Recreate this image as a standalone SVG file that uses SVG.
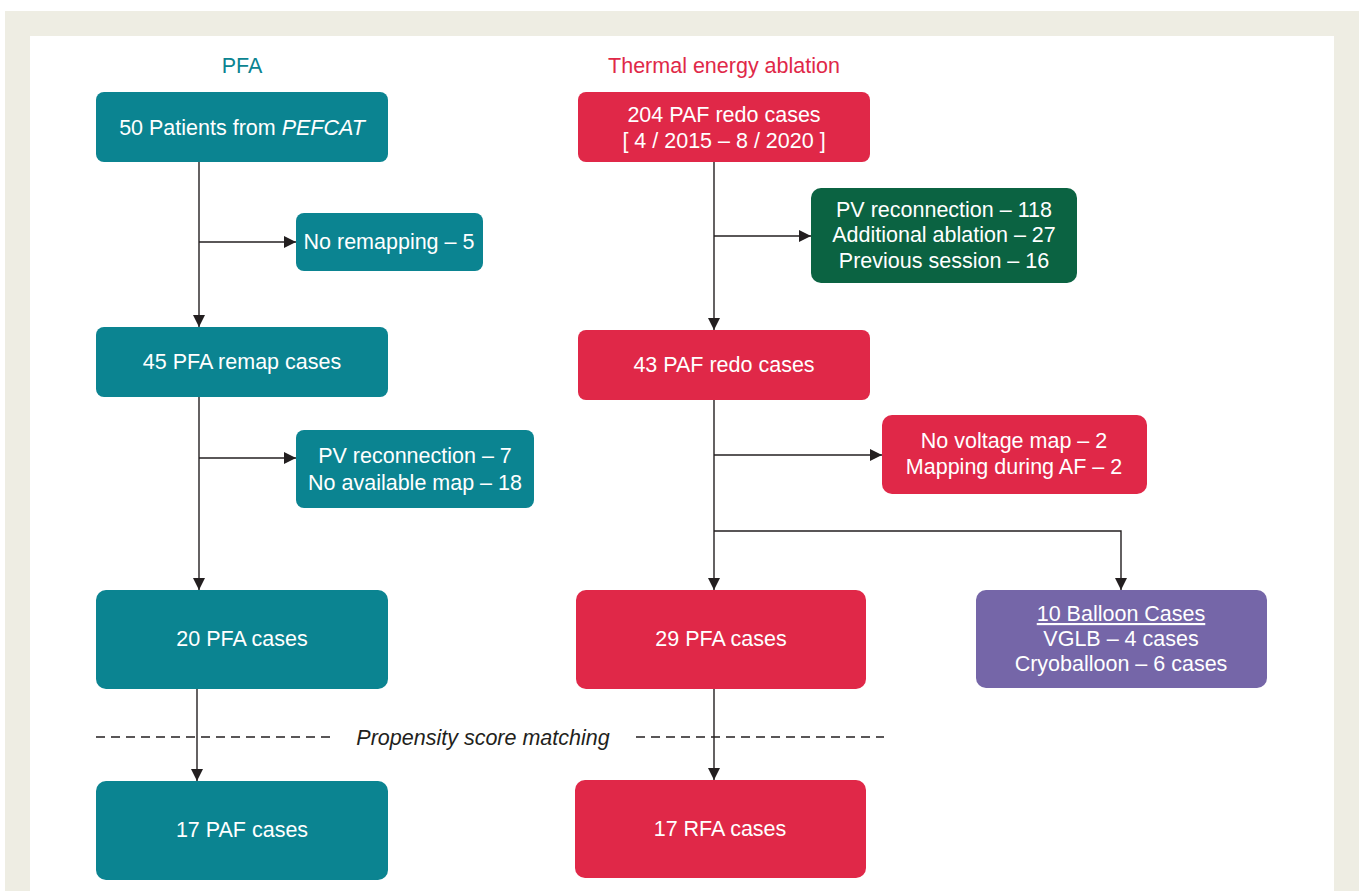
<svg xmlns="http://www.w3.org/2000/svg" width="1359" height="891" viewBox="0 0 1359 891">
<style>
text{font-family:"Liberation Sans",Arial,sans-serif;font-size:21.5px;fill:#fff;text-anchor:middle}
.teal{fill:#0B8491}
.red{fill:#E02848}
.green{fill:#0B6342}
.purple{fill:#7566A8}
.ln{stroke:#231F20;stroke-width:1.4;fill:none}
.dash{stroke:#231F20;stroke-width:1.4;stroke-dasharray:9 6;fill:none}
</style>
<defs>
<marker id="ah" viewBox="0 0 12 12" refX="12" refY="6" markerWidth="12" markerHeight="12" markerUnits="userSpaceOnUse" orient="auto">
<path d="M0,0 L12,6 L0,12 Z" fill="#231F20"/>
</marker>
</defs>
<rect x="0" y="0" width="1359" height="891" fill="#fff"/>
<rect x="5" y="11" width="1354" height="880" fill="#EEEDE3"/>
<rect x="30" y="36" width="1304" height="855" fill="#fff"/>
<text x="242" y="73" style="fill:#0B8491">PFA</text>
<text x="724" y="73" style="fill:#E02848">Thermal energy ablation</text>
<g id="connectors">
<line class="ln" x1="199" y1="162" x2="199" y2="327" marker-end="url(#ah)"/>
<line class="ln" x1="199" y1="242" x2="296" y2="242" marker-end="url(#ah)"/>
<line class="ln" x1="199" y1="397" x2="199" y2="590" marker-end="url(#ah)"/>
<line class="ln" x1="199" y1="458" x2="296" y2="458" marker-end="url(#ah)"/>
<line class="ln" x1="197" y1="689" x2="197" y2="781" marker-end="url(#ah)"/>
<line class="ln" x1="714" y1="162" x2="714" y2="330" marker-end="url(#ah)"/>
<line class="ln" x1="714" y1="236" x2="811" y2="236" marker-end="url(#ah)"/>
<line class="ln" x1="714" y1="400" x2="714" y2="590" marker-end="url(#ah)"/>
<line class="ln" x1="714" y1="455" x2="882" y2="455" marker-end="url(#ah)"/>
<polyline class="ln" points="714,531 1121,531 1121,590" marker-end="url(#ah)"/>
<line class="ln" x1="714" y1="689" x2="714" y2="780" marker-end="url(#ah)"/>
<line class="dash" x1="96" y1="737" x2="330" y2="737"/>
<line class="dash" x1="636" y1="737" x2="884" y2="737"/>
</g>
<text x="483" y="745" style="fill:#231F20;font-style:italic">Propensity score matching</text>
<g id="n1"><rect class="teal" x="96" y="92" width="292" height="70" rx="8"/><text x="242" y="135">50 Patients from <tspan font-style="italic">PEFCAT</tspan></text></g>
<g id="n2"><rect class="teal" x="296" y="213" width="187" height="58" rx="8"/><text x="389" y="249">No remapping – 5</text></g>
<g id="n3"><rect class="teal" x="96" y="327" width="292" height="70" rx="8"/><text x="242" y="369">45 PFA remap cases</text></g>
<g id="n4"><rect class="teal" x="296" y="430" width="238" height="78" rx="8"/><text x="415" y="463">PV reconnection – 7</text><text x="415" y="490">No available map – 18</text></g>
<g id="n5"><rect class="teal" x="96" y="590" width="292" height="99" rx="10"/><text x="242" y="646">20 PFA cases</text></g>
<g id="n6"><rect class="teal" x="96" y="781" width="292" height="99" rx="10"/><text x="242" y="837">17 PAF cases</text></g>
<g id="n7"><rect class="red" x="578" y="92" width="292" height="70" rx="8"/><text x="724" y="122">204 PAF redo cases</text><text x="724" y="148">[ 4 / 2015 – 8 / 2020 ]</text></g>
<g id="n8"><rect class="green" x="811" y="188" width="266" height="95" rx="10"/><text x="944" y="217">PV reconnection – 118</text><text x="944" y="242">Additional ablation – 27</text><text x="944" y="268">Previous session – 16</text></g>
<g id="n9"><rect class="red" x="578" y="330" width="292" height="70" rx="8"/><text x="724" y="372">43 PAF redo cases</text></g>
<g id="n10"><rect class="red" x="882" y="415" width="265" height="79" rx="10"/><text x="1014" y="448">No voltage map – 2</text><text x="1014" y="474">Mapping during AF – 2</text></g>
<g id="n11"><rect class="red" x="576" y="590" width="290" height="99" rx="10"/><text x="721" y="646">29 PFA cases</text></g>
<g id="n12"><rect class="purple" x="976" y="590" width="291" height="98" rx="10"/><text x="1121" y="621" text-decoration="underline">10 Balloon Cases</text><text x="1121" y="646">VGLB – 4 cases</text><text x="1121" y="671">Cryoballoon – 6 cases</text></g>
<g id="n13"><rect class="red" x="575" y="780" width="291" height="98" rx="10"/><text x="720" y="836">17 RFA cases</text></g>
</svg>
